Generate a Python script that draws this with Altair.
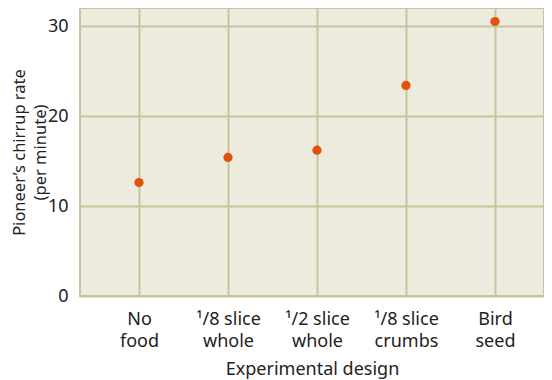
import json
import altair as alt
import pandas as pd

categories = ["No|food", "¹/8 slice|whole", "¹/2 slice|whole", "¹/8 slice|crumbs", "Bird|seed"]
rates = [12.6, 15.4, 16.2, 23.4, 30.5]
y_ticks = [0, 10, 20, 30]
x_title = "Experimental design"
y_title = ["Pioneer’s chirrup rate", "(per minute)"]

df = pd.DataFrame({"pos": list(range(len(categories))), "design": categories, "rate": rates})

label_expr = "split(" + json.dumps(categories, ensure_ascii=False) + "[datum.value], '|')"

FONT = "Noto Sans"
GRID = "#C8C39B"
BG = "#EDEBDD"
TEXT = "#222222"

chart = alt.Chart(df).mark_circle(size=85, color="#E0520E", opacity=1).encode(
    x=alt.X(
        "pos:Q",
        scale=alt.Scale(domain=[-0.663, 4.551], nice=False, zero=False),
        axis=alt.Axis(
            values=list(range(len(categories))),
            labelExpr=label_expr,
            title=x_title,
            grid=True, gridColor=GRID, gridWidth=2,
            ticks=False, domain=False,
            labelFont=FONT, labelFontSize=18, labelColor=TEXT,
            labelLineHeight=22, labelPadding=14,
            titleFont=FONT, titleFontSize=18, titleFontWeight="normal", titleColor=TEXT,
            titlePadding=10,
        ),
    ),
    y=alt.Y(
        "rate:Q",
        scale=alt.Scale(domain=[0, 32], nice=False),
        axis=alt.Axis(
            values=y_ticks,
            title=y_title,
            grid=True, gridColor=GRID, gridWidth=2,
            ticks=False, domain=False,
            labelFont=FONT, labelFontSize=18, labelColor=TEXT, labelPadding=12,
            titleFont=FONT, titleFontSize=16.5, titleFontWeight="normal", titleColor=TEXT,
            titleLineHeight=21, titleX=-53, titleBaseline="bottom",
        ),
    ),
).properties(
    width=464,
    height=288,
    autosize="none",
    padding={"left": 72, "top": 0, "right": 0, "bottom": 84},
    background="white",
).configure_view(fill=BG, stroke=GRID, strokeWidth=2)

chart.save("out.html", embed_options={"renderer": "svg", "actions": False})
